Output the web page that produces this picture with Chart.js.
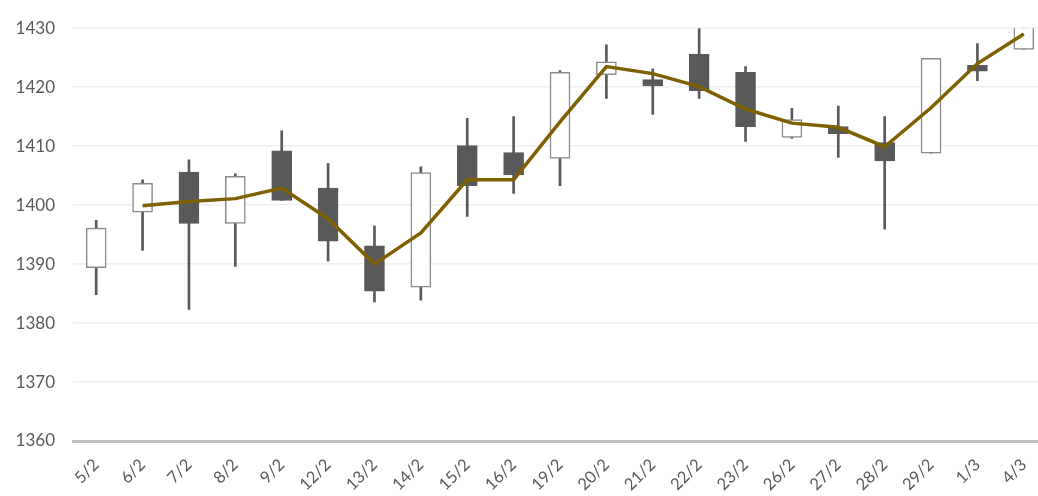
<!DOCTYPE html>
<html>
<head>
<meta charset="utf-8">
<script src="https://cdn.jsdelivr.net/npm/chart.js@4/dist/chart.umd.min.js"></script>
<style>
  html, body { margin: 0; padding: 0; background: #fff; overflow: hidden; }
  #wrap { position: relative; width: 1050px; height: 496px; }
</style>
</head>
<body>
<div id="wrap"><canvas id="candles"></canvas></div>
<script>
const categories = ["5/2", "6/2", "7/2", "8/2", "9/2", "12/2", "13/2", "14/2", "15/2", "16/2", "19/2",
    "20/2", "21/2", "22/2", "23/2", "26/2", "27/2", "28/2", "29/2", "1/3", "4/3"];
const openVals  = [1389.4, 1398.8, 1405.6, 1396.9, 1409.2, 1402.9, 1393.1, 1386.1, 1410.1, 1408.9, 1407.9,
    1422.1, 1421.3, 1425.6, 1422.5, 1411.5, 1413.3, 1410.6, 1408.8, 1423.7, 1426.4];
const highVals  = [1397.4, 1404.3, 1407.7, 1405.3, 1412.6, 1407.1, 1396.5, 1406.5, 1414.7, 1415.0, 1422.8,
    1427.2, 1423.1, 1431.5, 1423.5, 1416.4, 1416.8, 1415.0, 1424.9, 1427.4, 1432.0];
const lowVals   = [1384.8, 1392.3, 1382.3, 1389.6, 1400.8, 1390.5, 1383.6, 1383.9, 1398.1, 1402.0, 1403.3,
    1418.1, 1415.4, 1418.1, 1410.8, 1411.3, 1408.1, 1395.9, 1408.8, 1421.1, 1426.4];
const closeVals = [1396.1, 1403.7, 1396.9, 1404.9, 1400.8, 1393.9, 1385.4, 1405.5, 1403.3, 1405.1, 1422.5,
    1424.3, 1420.2, 1419.4, 1413.3, 1414.5, 1412.1, 1407.5, 1424.9, 1422.7, 1431.0];
const avgVals   = [null, 1399.9, 1400.6, 1401.1, 1402.9, 1397.7, 1390.0, 1395.3, 1404.3, 1404.3, 1414.1,
    1423.5, 1422.3, 1420.1, 1416.3, 1413.9, 1413.2, 1409.9, 1416.5, 1424.0, 1429.0];
const yTicks = [1360, 1370, 1380, 1390, 1400, 1410, 1420, 1430];

const DARK = "#595959";
const rising = openVals.map((o, i) => closeVals[i] >= o);

const wicks = lowVals.map((l, i) => [l, highVals[i]]);
const bodies = openVals.map((o, i) => [o, closeVals[i]]);

const ctx = document.getElementById("candles").getContext("2d");
new Chart(ctx, {
    type: "bar",
    data: {
        labels: categories,
        datasets: [
            {
                type: "line",
                label: "avg",
                data: avgVals,
                borderColor: "#7f6000",
                borderWidth: 3.5,
                pointRadius: 0,
                tension: 0,
                spanGaps: false,
                order: 0
            },
            {
                label: "body",
                data: bodies,
                backgroundColor: rising.map(r => r ? "#ffffff" : DARK),
                borderColor: rising.map(r => r ? "#8a8a8a" : DARK),
                borderWidth: 1.5,
                borderSkipped: false,
                barThickness: 20,
                grouped: false,
                order: 1
            },
            {
                label: "wick",
                data: wicks,
                backgroundColor: DARK,
                borderWidth: 0,
                barThickness: 2,
                grouped: false,
                order: 2
            }
        ]
    },
    options: {
        responsive: true,
        maintainAspectRatio: false,
        animation: false,
        layout: { padding: { top: 27, right: 3, left: 0, bottom: 0 } },
        plugins: { legend: { display: false }, tooltip: { enabled: false } },
        scales: {
            x: {
                grid: { display: false },
                border: { display: true, color: "#c0c0c0", width: 3 },
                ticks: {
                    color: DARK,
                    font: { family: "Lato", size: 16.5 },
                    minRotation: 45,
                    maxRotation: 45,
                    padding: 6
                },
                afterFit: s => { s.height = 55; }
            },
            y: {
                min: 1360,
                max: 1430,
                afterBuildTicks: s => { s.ticks = yTicks.map(v => ({ value: v })); },
                grid: { color: "#efefef", lineWidth: 1.5, drawTicks: false },
                border: { display: false },
                ticks: {
                    color: DARK,
                    font: { family: "Lato", size: 17 },
                    padding: 18,
                    callback: v => String(v)
                },
                afterFit: s => { s.width = 73; }
            }
        }
    }
});
</script>
</body>
</html>
